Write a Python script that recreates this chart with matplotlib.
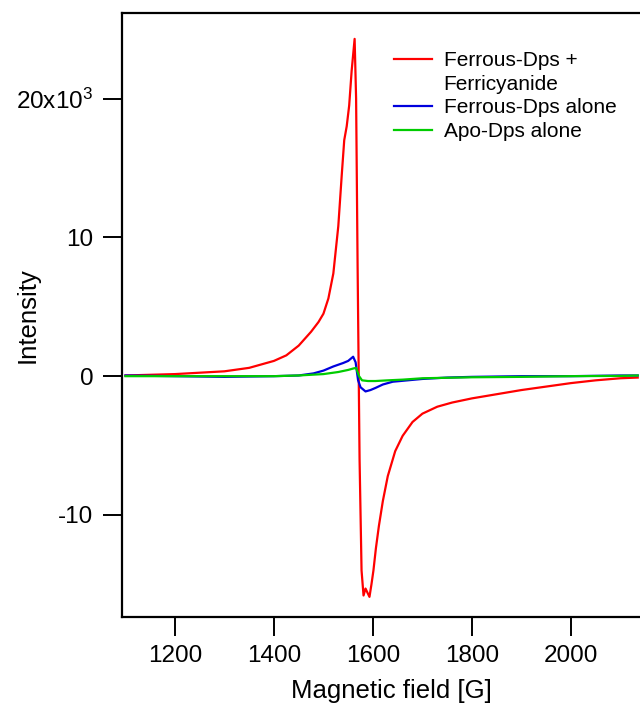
import matplotlib
matplotlib.use('Agg')
import matplotlib.pyplot as plt
from matplotlib.lines import Line2D

plt.rcParams['font.family'] = ['Liberation Sans', 'DejaVu Sans']
plt.rcParams['mathtext.fontset'] = 'custom'
plt.rcParams['mathtext.rm'] = 'Liberation Sans'
plt.rcParams['mathtext.it'] = 'Liberation Sans'

# intensity in units of 10^3, field in gauss
field_red = [1100, 1150, 1200, 1250, 1300, 1350, 1400, 1425, 1450, 1475, 1490, 1500, 1510,
             1520, 1530, 1537, 1542, 1547, 1552, 1557, 1563, 1566, 1569, 1573, 1577, 1581,
             1585, 1589, 1593, 1597, 1601, 1606, 1612, 1620, 1630, 1645, 1660, 1680, 1700,
             1730, 1760, 1800, 1850, 1900, 1950, 2000, 2050, 2100, 2135]
int_red = [0.05, 0.1, 0.15, 0.25, 0.35, 0.6, 1.1, 1.5, 2.2, 3.2, 3.9, 4.5, 5.6,
           7.4, 10.8, 14.5, 17.0, 18.0, 19.5, 22.0, 24.3, 20.0, 8.0, -6.0, -14.0, -15.8,
           -15.3, -15.6, -15.9, -15.0, -14.0, -12.4, -10.8, -9.0, -7.2, -5.4, -4.3, -3.3, -2.7,
           -2.2, -1.9, -1.6, -1.3, -1.0, -0.75, -0.5, -0.3, -0.15, -0.1]

field_blue = [1100, 1200, 1300, 1400, 1450, 1480, 1500, 1520, 1540, 1550, 1560, 1565, 1570,
              1575, 1585, 1595, 1605, 1620, 1640, 1670, 1700, 1750, 1800, 1900, 2000, 2100, 2135]
int_blue = [0.05, 0.0, -0.05, 0.0, 0.05, 0.2, 0.4, 0.7, 0.95, 1.1, 1.4, 1.0, -0.3,
            -0.8, -1.1, -1.0, -0.85, -0.6, -0.4, -0.3, -0.2, -0.1, -0.05, 0.0, 0.0, 0.05, 0.05]

field_green = [1100, 1200, 1300, 1400, 1450, 1500, 1530, 1550, 1560, 1566, 1572, 1578, 1590,
               1605, 1630, 1660, 1700, 1800, 1900, 2000, 2100, 2135]
int_green = [0.0, 0.0, 0.0, 0.0, 0.05, 0.15, 0.3, 0.45, 0.55, 0.6, 0.0, -0.3, -0.35,
             -0.35, -0.3, -0.25, -0.15, -0.08, -0.05, 0.0, 0.02, 0.05]

xticks = [1200, 1400, 1600, 1800, 2000]
yticks = [-10, 0, 10, 20]
ytick_labels = ['-10', '0', '10', r'20x10$^{3}$']

fig = plt.figure(figsize=(6.4, 7.1), dpi=100)
ax = fig.add_axes([122 / 640, 93 / 710, 538 / 640, 604.5 / 710])

ax.plot(field_red, int_red, color='#ff0000', lw=1.6)
ax.plot(field_blue, int_blue, color='#0000dd', lw=1.6)
ax.plot(field_green, int_green, color='#00cc00', lw=1.6)

ax.set_xlim(1093, 2180)
ax.set_ylim(-17.35, 26.2)
ax.set_xticks(xticks)
ax.set_yticks(yticks)
ax.set_yticklabels(ytick_labels)
ax.tick_params(direction='out', length=13.5, width=1.4, labelsize=17.5, pad=7)
for s in ax.spines.values():
    s.set_linewidth(1.6)
ax.spines['right'].set_visible(False)

ax.set_xlabel('Magnetic field [G]', fontsize=18.5, labelpad=8)
ax.set_ylabel('Intensity', fontsize=18.5)
ax.yaxis.set_label_coords(-0.153, 0.5)

handles = [Line2D([], [], color='#ff0000', lw=1.6),
           Line2D([], [], color='none'),
           Line2D([], [], color='#0000dd', lw=1.6),
           Line2D([], [], color='#00cc00', lw=1.6)]
labels = ['Ferrous-Dps +', 'Ferricyanide', 'Ferrous-Dps alone', 'Apo-Dps alone']
ax.legend(handles, labels, loc='upper left', bbox_to_anchor=(0.49, 0.95), frameon=False,
          fontsize=15, handlelength=1.85, handletextpad=0.53, labelspacing=0.22,
          borderaxespad=0)

fig.savefig('out.png', dpi=100)
